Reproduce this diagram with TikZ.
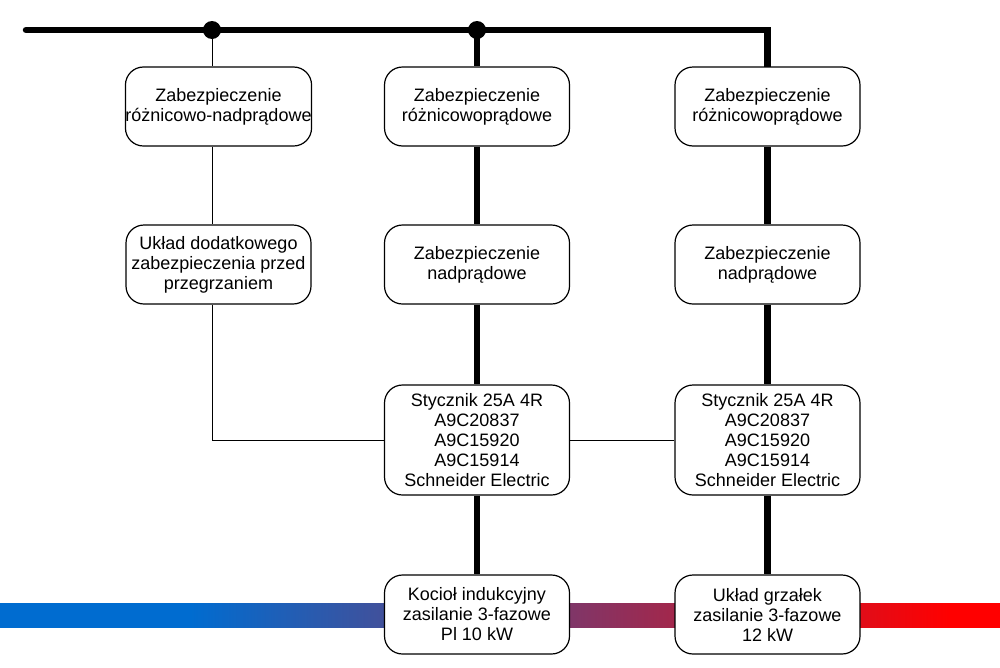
\documentclass[tikz,border=0pt]{standalone}
\usepackage{fontspec}
\setmainfont{Liberation Sans}
\definecolor{barblue}{RGB}{0,108,208}
\definecolor{barred}{RGB}{255,0,0}
\pgfdeclarehorizontalshading{barshade}{100bp}{color(0bp)=(barblue); color(34.5bp)=(barblue); color(72.5bp)=(barred); color(100bp)=(barred)}
\pgfdeclarelayer{bg}
\pgfsetlayers{bg,main}
\tikzset{
  box/.style={draw=black, line width=1.2pt, fill=white, rounded corners=18pt,
    minimum width=185pt, minimum height=79pt, inner sep=0pt, align=center,
    font=\fontsize{18}{20}\selectfont},
  tallbox/.style={box, minimum height=110pt},
  bus/.style={line width=6.5pt, line join=miter},
  thin/.style={line width=1pt},
  junction/.style={circle, fill=black, minimum size=18pt, inner sep=0pt}
}
\begin{document}
\begin{tikzpicture}[x=1pt,y=-1pt]
\useasboundingbox (0,0) rectangle (1000,667);
% coordinates of the bus
\coordinate (busL) at (26,30);
\coordinate (j1) at (212,30);
\coordinate (j2) at (477,30);
\coordinate (busR) at (767.5,30);
% nodes
\node[box] (a1) at (218.5,106.5) {Zabezpieczenie\\różnicowo-nadprądowe};
\node[box] (b1) at (477,106.5) {Zabezpieczenie\\różnicowoprądowe};
\node[box] (c1) at (767.5,106.5) {Zabezpieczenie\\różnicowoprądowe};
\node[box] (a2) at (218.5,264.5) {Układ dodatkowego\\zabezpieczenia przed\\przegrzaniem};
\node[box] (b2) at (477,264.5) {Zabezpieczenie\\nadprądowe};
\node[box] (c2) at (767.5,264.5) {Zabezpieczenie\\nadprądowe};
\node[tallbox] (b3) at (477,440) {Stycznik 25A 4R\\A9C20837\\A9C15920\\A9C15914\\Schneider Electric};
\node[tallbox] (c3) at (767.5,440) {Stycznik 25A 4R\\A9C20837\\A9C15920\\A9C15914\\Schneider Electric};
\node[box] (b4) at (477,614.5) {Kocioł indukcyjny\\zasilanie 3-fazowe\\Pl 10 kW};
\node[box] (c4) at (767.5,614.5) {Układ grzałek\\zasilanie 3-fazowe\\12 kW};
\begin{pgfonlayer}{bg}
  % gradient bar
  \shade[shading=barshade] (0,603) rectangle (1000,627);
  % bus
  \draw[bus, line cap=round] (busL) -- (busR) -- (c1.north);
  \draw[bus] (j2) -- (b1.north);
  \draw[bus] (b1.south) -- (b2.north);
  \draw[bus] (b2.south) -- (b3.north);
  \draw[bus] (b3.south) -- (b4.north);
  \draw[bus] (c1.south) -- (c2.north);
  \draw[bus] (c2.south) -- (c3.north);
  \draw[bus] (c3.south) -- (c4.north);
  % thin connections
  \draw[thin] (j1) -- (j1 |- a1.north);
  \draw[thin] (j1 |- a1.south) -- (j1 |- a2.north);
  \draw[thin] (j1 |- a2.south) -- (j1 |- b3.west) -- (b3.west);
  \draw[thin] (b3.east) -- (c3.west);
\end{pgfonlayer}
\node[junction] (d1) at (j1) {};
\node[junction] (d2) at (j2) {};
\end{tikzpicture}
\end{document}
